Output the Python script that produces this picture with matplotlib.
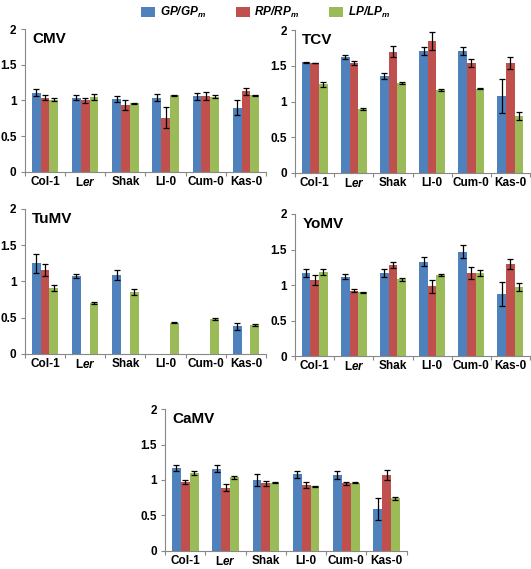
import numpy as np
import matplotlib
matplotlib.use("Agg")
import matplotlib.pyplot as plt
import matplotlib.patches as mpatches
from matplotlib.ticker import FixedLocator, FuncFormatter

plt.rcParams["font.family"] = "Liberation Sans"
plt.rcParams["font.weight"] = "bold"
plt.rcParams["mathtext.fontset"] = "custom"
plt.rcParams["mathtext.rm"] = "Liberation Sans:bold"
plt.rcParams["mathtext.it"] = "Liberation Sans:italic:bold"
plt.rcParams["mathtext.bf"] = "Liberation Sans:bold"

# ── Data ──────────────────────────────────────────────────────────────────
accessions = ["Col-1", "L$\\mathit{er}$", "Shak", "Ll-0", "Cum-0", "Kas-0"]
series_labels = ["GP/GP$_\\mathit{m}$", "RP/RP$_\\mathit{m}$", "LP/LP$_\\mathit{m}$"]

cmv_gp = [1.11, 1.04, 1.02, 1.04, 1.06, 0.90]
cmv_gp_err = [0.05, 0.04, 0.04, 0.05, 0.05, 0.10]
cmv_rp = [1.04, 1.00, 0.93, 0.76, 1.06, 1.13]
cmv_rp_err = [0.04, 0.03, 0.07, 0.15, 0.06, 0.05]
cmv_lp = [1.01, 1.05, 0.96, 1.07, 1.05, 1.07]
cmv_lp_err = [0.02, 0.04, 0.01, 0.01, 0.02, 0.01]

tcv_gp = [1.55, 1.62, 1.36, 1.71, 1.71, 1.08]
tcv_gp_err = [0.005, 0.03, 0.04, 0.06, 0.06, 0.24]
tcv_rp = [1.54, 1.54, 1.70, 1.85, 1.54, 1.54]
tcv_rp_err = [0.005, 0.03, 0.08, 0.13, 0.05, 0.09]
tcv_lp = [1.24, 0.90, 1.26, 1.16, 1.18, 0.80]
tcv_lp_err = [0.03, 0.015, 0.02, 0.01, 0.01, 0.06]

tumv_gp = [1.25, 1.07, 1.09, np.nan, np.nan, 0.38]
tumv_gp_err = [0.13, 0.03, 0.07, np.nan, np.nan, 0.05]
tumv_rp = [1.16, np.nan, np.nan, np.nan, np.nan, np.nan]
tumv_rp_err = [0.08, np.nan, np.nan, np.nan, np.nan, np.nan]
tumv_lp = [0.91, 0.70, 0.85, 0.43, 0.48, 0.40]
tumv_lp_err = [0.04, 0.01, 0.04, 0.005, 0.01, 0.01]

yomv_gp = [1.17, 1.12, 1.17, 1.33, 1.47, 0.88]
yomv_gp_err = [0.05, 0.03, 0.05, 0.06, 0.09, 0.17]
yomv_rp = [1.07, 0.92, 1.28, 0.98, 1.17, 1.30]
yomv_rp_err = [0.07, 0.02, 0.04, 0.09, 0.08, 0.07]
yomv_lp = [1.18, 0.90, 1.08, 1.14, 1.17, 0.97]
yomv_lp_err = [0.04, 0.005, 0.02, 0.01, 0.04, 0.06]

camv_gp = [1.17, 1.16, 1.00, 1.08, 1.07, 0.59]
camv_gp_err = [0.04, 0.05, 0.08, 0.05, 0.06, 0.16]
camv_rp = [0.97, 0.89, 0.95, 0.93, 0.95, 1.07]
camv_rp_err = [0.03, 0.05, 0.03, 0.04, 0.02, 0.07]
camv_lp = [1.10, 1.04, 0.96, 0.91, 0.96, 0.74]
camv_lp_err = [0.03, 0.02, 0.01, 0.005, 0.005, 0.02]

COLORS = ["#4F81BD", "#C0504D", "#9BBB59"]

panels = [
    ("CMV", [0.047, 0.698, 0.454, 0.251],
     [(cmv_gp, cmv_gp_err), (cmv_rp, cmv_rp_err), (cmv_lp, cmv_lp_err)]),
    ("TCV", [0.556, 0.696, 0.442, 0.251],
     [(tcv_gp, tcv_gp_err), (tcv_rp, tcv_rp_err), (tcv_lp, tcv_lp_err)]),
    ("TuMV", [0.047, 0.378, 0.454, 0.255],
     [(tumv_gp, tumv_gp_err), (tumv_rp, tumv_rp_err), (tumv_lp, tumv_lp_err)]),
    ("YoMV", [0.556, 0.374, 0.442, 0.250],
     [(yomv_gp, yomv_gp_err), (yomv_rp, yomv_rp_err), (yomv_lp, yomv_lp_err)]),
    ("CaMV", [0.311, 0.032, 0.455, 0.249],
     [(camv_gp, camv_gp_err), (camv_rp, camv_rp_err), (camv_lp, camv_lp_err)]),
]

fig = plt.figure(figsize=(5.31, 5.69), dpi=100)
fig.patch.set_facecolor("white")

bw = 0.22
x = np.arange(len(accessions))

for name, rect, series in panels:
    ax = fig.add_axes(rect)
    for i, (vals, errs) in enumerate(series):
        ax.bar(x + (i - 1) * bw, vals, width=bw, color=COLORS[i],
               edgecolor="none", zorder=2)
        ax.errorbar(x + (i - 1) * bw, vals, yerr=errs, fmt="none",
                    ecolor="black", elinewidth=0.9, capsize=2.2,
                    capthick=0.9, zorder=3)
    ax.set_xlim(-0.5, len(accessions) - 0.5)
    ax.set_ylim(0, 2)
    ax.set_yticks([0, 0.5, 1, 1.5, 2])
    ax.yaxis.set_major_formatter(FuncFormatter(lambda v, p: f"{v:g}"))
    ax.set_xticks(x)
    ax.set_xticklabels(accessions)
    ax.xaxis.set_minor_locator(FixedLocator(np.arange(-0.5, len(accessions), 1.0)))
    ax.tick_params(axis="x", which="major", length=0, pad=3, labelsize=8.5)
    ax.tick_params(axis="x", which="minor", length=3, width=0.8, color="#888888")
    ax.tick_params(axis="y", length=3, width=0.8, color="#888888", labelsize=8.5,
                   pad=3)
    for s in ["top", "right"]:
        ax.spines[s].set_visible(False)
    for s in ["left", "bottom"]:
        ax.spines[s].set_color("#888888")
        ax.spines[s].set_linewidth(0.8)
    ax.text(0.03, 0.98, name, transform=ax.transAxes, ha="left", va="top",
            fontsize=11, fontweight="bold")

handles = [mpatches.Patch(facecolor=c, label=l) for c, l in zip(COLORS, series_labels)]
fig.legend(handles=handles, loc="upper center", bbox_to_anchor=(0.5, 1.01),
           ncol=3, frameon=False, handlelength=1.2,
           prop={"family": "Liberation Sans", "style": "italic",
                 "weight": "bold", "size": 8.5},
           handleheight=0.9, columnspacing=2.5, handletextpad=0.4)

fig.savefig("out.png", dpi=100, facecolor="white")
